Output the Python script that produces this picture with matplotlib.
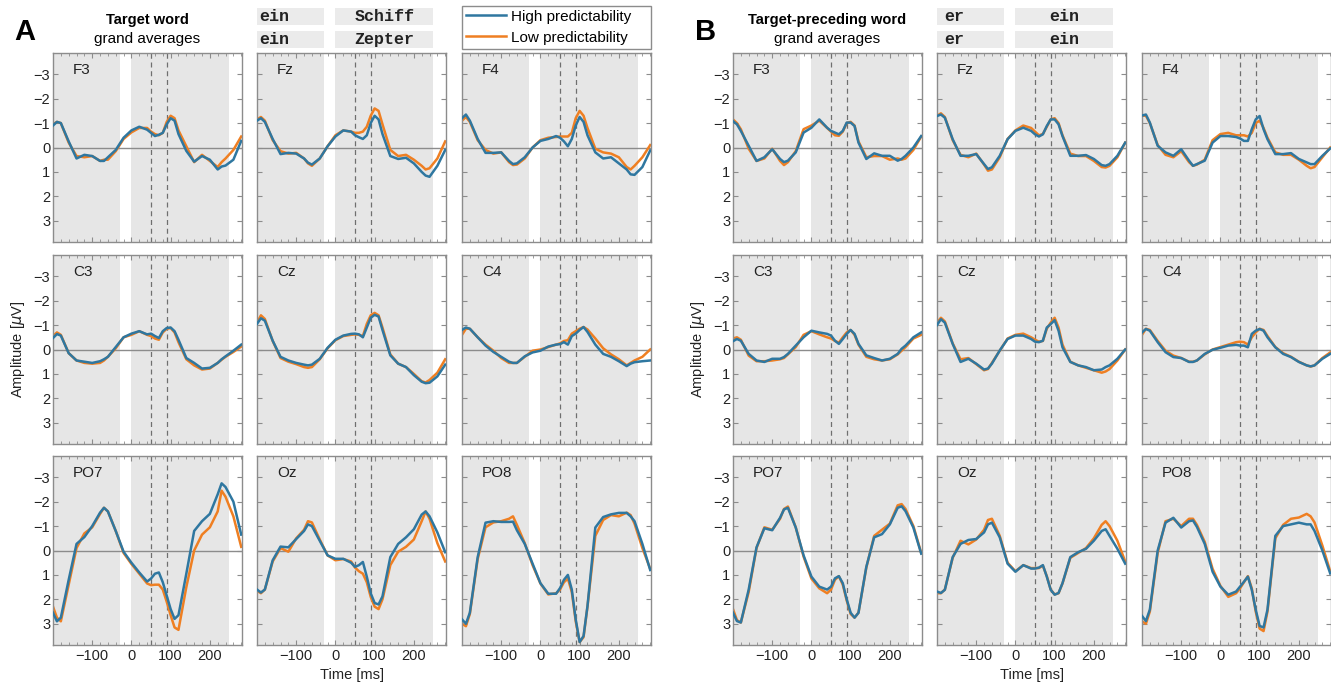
import matplotlib
matplotlib.use('Agg')
import matplotlib.pyplot as plt
from matplotlib.ticker import MultipleLocator
from matplotlib.transforms import blended_transform_factory
from matplotlib.patches import Rectangle
from matplotlib.lines import Line2D

plt.rcParams['font.family'] = ['Liberation Sans', 'DejaVu Sans']

# sample times (ms) shared by every waveform
times = [-200, -190, -180, -160, -140, -120, -100, -80, -70, -60, -40, -20, 0, 20, 40, 50,
         60, 70, 80, 90, 100, 110, 120, 140, 160, 180, 200, 220, 230, 240, 260, 280]

channels = [['F3', 'Fz', 'F4'], ['C3', 'Cz', 'C4'], ['PO7', 'Oz', 'PO8']]
cond_labels = ['High predictability', 'Low predictability']
fix_windows = [(-200, -30), (0, 250)]
marker_times = [50, 90]
words_a = [['ein', 'Schiff'], ['ein', 'Zepter']]
words_b = [['er', 'ein'], ['er', 'ein']]

# panel A: target word (hi = high predictability, lo = low predictability)
a_f3_hi = [-0.9, -1.05, -1.0, -0.25, 0.45, 0.3, 0.35, 0.55, 0.55, 0.4, 0.1, -0.4, -0.7, -0.85, -0.73, -0.6, -0.47, -0.52, -0.6, -0.95, -1.2, -1.1, -0.55, 0.14, 0.58, 0.35, 0.5, 0.9, 0.78, 0.74, 0.5, -0.27]
a_f3_lo = [-0.95, -1.05, -1.0, -0.2, 0.35, 0.4, 0.35, 0.55, 0.5, 0.5, 0.15, -0.35, -0.62, -0.8, -0.8, -0.65, -0.55, -0.5, -0.6, -1.05, -1.3, -1.2, -0.7, -0.05, 0.6, 0.3, 0.55, 0.8, 0.6, 0.45, 0.1, -0.45]
a_fz_hi = [-1.1, -1.2, -1.05, -0.35, 0.27, 0.22, 0.25, 0.45, 0.62, 0.7, 0.45, -0.05, -0.45, -0.7, -0.65, -0.5, -0.42, -0.35, -0.5, -1.0, -1.3, -1.15, -0.55, 0.35, 0.47, 0.42, 0.65, 1.0, 1.15, 1.2, 0.75, 0.1]
a_fz_lo = [-1.15, -1.25, -1.1, -0.3, 0.15, 0.25, 0.22, 0.45, 0.65, 0.75, 0.45, -0.05, -0.5, -0.7, -0.65, -0.6, -0.6, -0.65, -0.85, -1.3, -1.6, -1.5, -0.95, 0.1, 0.35, 0.3, 0.5, 0.75, 0.9, 0.85, 0.45, -0.25]
a_f4_hi = [-1.2, -1.35, -1.1, -0.35, 0.22, 0.22, 0.2, 0.55, 0.68, 0.65, 0.4, 0.0, -0.27, -0.35, -0.47, -0.4, -0.25, -0.05, -0.35, -0.9, -1.25, -1.05, -0.5, 0.2, 0.45, 0.4, 0.65, 0.9, 1.1, 1.12, 0.8, 0.12]
a_f4_lo = [-1.1, -1.25, -1.05, -0.3, 0.1, 0.25, 0.2, 0.6, 0.72, 0.7, 0.45, 0.0, -0.3, -0.4, -0.43, -0.45, -0.45, -0.45, -0.6, -1.2, -1.5, -1.3, -0.8, 0.05, 0.2, 0.25, 0.4, 0.8, 0.9, 0.75, 0.4, -0.1]
a_c3_hi = [-0.47, -0.63, -0.57, 0.15, 0.45, 0.5, 0.55, 0.48, 0.4, 0.3, -0.1, -0.5, -0.65, -0.75, -0.62, -0.65, -0.55, -0.47, -0.75, -0.88, -0.9, -0.75, -0.4, 0.35, 0.55, 0.78, 0.75, 0.55, 0.4, 0.28, 0.05, -0.2]
a_c3_lo = [-0.55, -0.7, -0.6, 0.15, 0.45, 0.55, 0.58, 0.55, 0.45, 0.3, -0.05, -0.5, -0.6, -0.75, -0.6, -0.55, -0.45, -0.4, -0.7, -0.85, -0.88, -0.7, -0.3, 0.4, 0.65, 0.82, 0.78, 0.55, 0.42, 0.3, 0.1, -0.12]
a_cz_hi = [-1.05, -1.28, -1.18, -0.36, 0.3, 0.45, 0.55, 0.62, 0.65, 0.62, 0.38, -0.07, -0.4, -0.57, -0.64, -0.65, -0.62, -0.5, -0.9, -1.3, -1.42, -1.35, -0.8, 0.24, 0.58, 0.72, 1.05, 1.32, 1.38, 1.36, 1.1, 0.62]
a_cz_lo = [-1.1, -1.4, -1.25, -0.35, 0.35, 0.5, 0.6, 0.72, 0.75, 0.72, 0.4, -0.05, -0.38, -0.55, -0.6, -0.62, -0.6, -0.55, -1.05, -1.4, -1.5, -1.4, -0.9, 0.2, 0.58, 0.72, 1.0, 1.3, 1.35, 1.25, 0.95, 0.4]
a_c4_hi = [-0.8, -0.9, -0.85, -0.5, -0.16, 0.1, 0.3, 0.5, 0.55, 0.55, 0.28, 0.12, 0.05, -0.12, -0.2, -0.22, -0.3, -0.2, -0.55, -0.65, -0.8, -0.92, -0.72, -0.2, 0.18, 0.3, 0.48, 0.68, 0.58, 0.52, 0.48, 0.45]
a_c4_lo = [-0.6, -0.85, -0.85, -0.5, -0.2, 0.05, 0.35, 0.55, 0.55, 0.55, 0.3, 0.05, 0.0, -0.1, -0.2, -0.25, -0.35, -0.38, -0.65, -0.75, -0.85, -0.92, -0.82, -0.45, -0.05, 0.2, 0.4, 0.65, 0.55, 0.45, 0.3, 0.0]
a_po7_hi = [2.55, 2.9, 2.75, 1.2, -0.27, -0.55, -1.0, -1.55, -1.75, -1.6, -0.8, 0.05, 0.5, 0.9, 1.27, 1.15, 0.95, 0.9, 1.3, 1.85, 2.4, 2.8, 2.65, 0.95, -0.8, -1.2, -1.5, -2.3, -2.75, -2.6, -2.0, -0.65]
a_po7_lo = [2.3, 2.75, 2.9, 1.4, -0.1, -0.7, -0.95, -1.5, -1.75, -1.6, -0.8, 0.1, 0.55, 0.95, 1.35, 1.42, 1.4, 1.4, 1.6, 2.1, 2.65, 3.15, 3.25, 1.5, 0.0, -0.65, -0.95, -1.6, -2.45, -2.2, -1.4, -0.15]
a_oz_hi = [1.6, 1.72, 1.6, 0.4, -0.16, -0.13, -0.47, -0.8, -1.07, -1.0, -0.4, 0.2, 0.34, 0.34, 0.5, 0.67, 0.6, 0.47, 1.07, 1.75, 2.15, 2.21, 1.88, 0.27, -0.27, -0.54, -0.87, -1.47, -1.6, -1.4, -0.74, 0.07]
a_oz_lo = [1.65, 1.75, 1.6, 0.45, -0.1, 0.05, -0.5, -0.85, -1.2, -1.15, -0.45, 0.2, 0.4, 0.35, 0.45, 0.7, 0.85, 0.95, 1.3, 1.9, 2.3, 2.4, 2.0, 0.6, 0.05, -0.15, -0.45, -1.2, -1.6, -1.3, -0.3, 0.45]
a_po8_hi = [2.82, 3.0, 2.55, 0.27, -1.14, -1.2, -1.17, -1.17, -1.18, -0.83, -0.27, 0.54, 1.34, 1.77, 1.77, 1.54, 1.2, 1.0, 1.6, 2.82, 3.75, 3.5, 2.28, -0.94, -1.37, -1.48, -1.54, -1.54, -1.4, -1.2, -0.27, 0.8]
a_po8_lo = [3.0, 3.1, 2.6, 0.35, -0.95, -1.15, -1.2, -1.3, -1.4, -1.05, -0.3, 0.6, 1.35, 1.8, 1.75, 1.6, 1.3, 1.15, 1.7, 2.9, 3.75, 3.55, 2.3, -0.6, -1.25, -1.45, -1.4, -1.55, -1.45, -1.1, -0.1, 0.75]

# panel B: target-preceding word
b_f3_hi = [-1.08, -0.95, -0.68, -0.07, 0.55, 0.4, 0.07, 0.47, 0.6, 0.54, 0.2, -0.61, -0.81, -1.15, -0.81, -0.68, -0.61, -0.54, -0.68, -1.02, -1.02, -0.88, -0.2, 0.47, 0.24, 0.34, 0.34, 0.54, 0.47, 0.34, 0.0, -0.47]
b_f3_lo = [-1.15, -1.0, -0.75, 0.05, 0.55, 0.45, 0.05, 0.55, 0.72, 0.6, 0.15, -0.75, -0.9, -1.1, -0.8, -0.65, -0.5, -0.48, -0.65, -1.0, -1.05, -0.9, -0.25, 0.4, 0.35, 0.35, 0.5, 0.45, 0.5, 0.45, 0.1, -0.45]
b_fz_hi = [-1.29, -1.35, -1.22, -0.34, 0.34, 0.34, 0.27, 0.68, 0.88, 0.81, 0.34, -0.34, -0.68, -0.81, -0.68, -0.54, -0.45, -0.54, -0.88, -1.15, -1.15, -0.95, -0.47, 0.34, 0.34, 0.31, 0.47, 0.72, 0.75, 0.68, 0.34, -0.2]
b_fz_lo = [-1.3, -1.4, -1.25, -0.3, 0.3, 0.4, 0.25, 0.7, 0.95, 0.9, 0.4, -0.35, -0.7, -0.9, -0.8, -0.65, -0.5, -0.55, -0.85, -1.15, -1.2, -1.0, -0.5, 0.25, 0.35, 0.35, 0.55, 0.8, 0.82, 0.75, 0.4, -0.2]
b_f4_hi = [-1.31, -1.35, -1.02, -0.07, 0.2, 0.34, 0.07, 0.54, 0.75, 0.68, 0.54, -0.2, -0.47, -0.47, -0.43, -0.37, -0.27, -0.27, -0.75, -1.15, -1.29, -0.75, -0.34, 0.27, 0.27, 0.23, 0.47, 0.61, 0.68, 0.68, 0.34, 0.04]
b_f4_lo = [-1.3, -1.3, -1.0, -0.1, 0.3, 0.4, 0.15, 0.6, 0.75, 0.7, 0.5, -0.3, -0.55, -0.6, -0.5, -0.5, -0.5, -0.45, -0.6, -1.0, -1.1, -0.8, -0.4, 0.2, 0.3, 0.3, 0.5, 0.75, 0.85, 0.8, 0.4, 0.0]
b_c3_hi = [-0.34, -0.43, -0.36, 0.18, 0.45, 0.51, 0.38, 0.38, 0.31, 0.18, -0.16, -0.5, -0.77, -0.7, -0.64, -0.57, -0.36, -0.23, -0.43, -0.64, -0.8, -0.64, -0.23, 0.24, 0.35, 0.45, 0.38, 0.18, -0.03, -0.16, -0.5, -0.7]
b_c3_lo = [-0.45, -0.5, -0.4, 0.25, 0.48, 0.48, 0.45, 0.4, 0.35, 0.2, -0.1, -0.6, -0.75, -0.62, -0.5, -0.45, -0.35, -0.28, -0.5, -0.7, -0.8, -0.6, -0.2, 0.3, 0.4, 0.45, 0.4, 0.2, 0.05, -0.1, -0.45, -0.6]
b_cz_hi = [-1.0, -1.24, -1.1, -0.23, 0.51, 0.38, 0.58, 0.82, 0.78, 0.58, 0.04, -0.43, -0.57, -0.57, -0.43, -0.32, -0.3, -0.36, -0.9, -1.04, -1.2, -0.77, -0.09, 0.51, 0.65, 0.72, 0.85, 0.82, 0.72, 0.65, 0.38, 0.0]
b_cz_lo = [-1.1, -1.3, -1.15, -0.25, 0.4, 0.35, 0.6, 0.85, 0.8, 0.55, 0.05, -0.45, -0.6, -0.65, -0.5, -0.4, -0.32, -0.35, -0.85, -1.1, -1.3, -0.9, -0.2, 0.5, 0.65, 0.75, 0.85, 0.95, 0.9, 0.8, 0.45, 0.0]
b_c4_hi = [-0.7, -0.84, -0.77, -0.3, 0.11, 0.31, 0.35, 0.51, 0.51, 0.45, 0.18, 0.01, -0.07, -0.16, -0.19, -0.16, -0.16, -0.09, -0.64, -0.77, -0.84, -0.77, -0.5, -0.09, 0.18, 0.31, 0.51, 0.65, 0.69, 0.65, 0.38, 0.18]
b_c4_lo = [-0.6, -0.85, -0.8, -0.35, 0.05, 0.25, 0.35, 0.5, 0.5, 0.45, 0.2, 0.0, -0.1, -0.2, -0.3, -0.32, -0.3, -0.2, -0.5, -0.7, -0.85, -0.8, -0.55, -0.1, 0.15, 0.3, 0.5, 0.65, 0.7, 0.65, 0.35, 0.12]
b_po7_hi = [2.55, 2.89, 2.95, 1.6, -0.13, -0.91, -0.83, -1.34, -1.68, -1.75, -0.94, 0.2, 1.07, 1.48, 1.6, 1.48, 1.14, 1.05, 1.34, 2.0, 2.55, 2.75, 2.55, 0.67, -0.54, -0.67, -1.07, -1.75, -1.81, -1.61, -0.94, 0.13]
b_po7_lo = [2.4, 2.85, 2.95, 1.7, -0.1, -0.95, -0.85, -1.3, -1.7, -1.8, -0.95, 0.25, 1.15, 1.55, 1.75, 1.6, 1.2, 1.05, 1.4, 2.05, 2.6, 2.75, 2.55, 0.7, -0.6, -0.85, -1.1, -1.85, -1.9, -1.7, -1.0, 0.1]
b_oz_hi = [1.68, 1.74, 1.61, 0.27, -0.27, -0.43, -0.47, -0.74, -1.07, -1.14, -0.54, 0.54, 0.87, 0.6, 0.74, 0.74, 0.7, 0.6, 1.07, 1.61, 1.81, 1.74, 1.34, 0.27, 0.07, -0.07, -0.4, -0.8, -0.87, -0.6, -0.07, 0.54]
b_oz_lo = [1.75, 1.75, 1.6, 0.3, -0.4, -0.25, -0.45, -0.85, -1.25, -1.3, -0.6, 0.5, 0.85, 0.6, 0.72, 0.72, 0.72, 0.62, 1.05, 1.6, 1.8, 1.75, 1.35, 0.3, 0.1, -0.1, -0.5, -1.05, -1.2, -1.0, -0.4, 0.45]
b_po8_hi = [2.68, 2.89, 2.42, 0.0, -1.14, -1.34, -0.94, -1.2, -1.23, -0.97, -0.27, 0.87, 1.48, 1.81, 1.68, 1.48, 1.28, 1.07, 1.61, 2.42, 3.09, 3.15, 2.42, -0.6, -1.0, -1.07, -1.14, -1.07, -1.07, -0.8, 0.0, 0.94]
b_po8_lo = [2.9, 3.0, 2.5, 0.1, -1.2, -1.3, -1.0, -1.3, -1.3, -1.05, -0.35, 0.75, 1.45, 1.9, 1.75, 1.55, 1.3, 1.05, 1.55, 2.5, 3.2, 3.3, 2.5, -0.5, -1.05, -1.3, -1.35, -1.5, -1.4, -1.15, -0.2, 0.85]

waves = {
    'A': {'F3': (a_f3_hi, a_f3_lo), 'Fz': (a_fz_hi, a_fz_lo), 'F4': (a_f4_hi, a_f4_lo),
          'C3': (a_c3_hi, a_c3_lo), 'Cz': (a_cz_hi, a_cz_lo), 'C4': (a_c4_hi, a_c4_lo),
          'PO7': (a_po7_hi, a_po7_lo), 'Oz': (a_oz_hi, a_oz_lo), 'PO8': (a_po8_hi, a_po8_lo)},
    'B': {'F3': (b_f3_hi, b_f3_lo), 'Fz': (b_fz_hi, b_fz_lo), 'F4': (b_f4_hi, b_f4_lo),
          'C3': (b_c3_hi, b_c3_lo), 'Cz': (b_cz_hi, b_cz_lo), 'C4': (b_c4_hi, b_c4_lo),
          'PO7': (b_po7_hi, b_po7_lo), 'Oz': (b_oz_hi, b_oz_lo), 'PO8': (b_po8_hi, b_po8_lo)},
}

blue = '#2f77a0'
orange = '#ef7f22'
frame_grey = '#8c8c8c'
shade = '#e6e6e6'

W, H = 1331, 685
fig = plt.figure(figsize=(W / 100, H / 100), dpi=100)

col_left = {'A': [53, 257, 462], 'B': [733, 937, 1142]}
row_top = [53, 255, 456]
ax_w, ax_h = 189, 189

mid_axes = {}
for panel in ['A', 'B']:
    for r in range(3):
        for c in range(3):
            l, t = col_left[panel][c], row_top[r]
            ax = fig.add_axes([l / W, 1 - (t + ax_h) / H, ax_w / W, ax_h / H])
            ch = channels[r][c]
            hi, lo = waves[panel][ch]
            for a, b in fix_windows:
                ax.axvspan(a, b, color=shade, lw=0, zorder=0)
            ax.axhline(0, color=frame_grey, lw=1, zorder=1)
            for m in marker_times:
                ax.axvline(m, color='#6f6f6f', lw=0.9, ls=(0, (4, 3)), zorder=1)
            ax.plot(times, lo, color=orange, lw=1.8, zorder=2)
            ax.plot(times, hi, color=blue, lw=1.8, zorder=3)
            ax.set_xlim(-200, 282)
            ax.set_ylim(3.87, -3.87)
            ax.set_xticks([-100, 0, 100, 200])
            ax.xaxis.set_minor_locator(MultipleLocator(20))
            ax.set_yticks(range(-3, 4))
            ax.tick_params(which='both', direction='in', top=True, right=True,
                           color=frame_grey, labelcolor='#222222', labelsize=10.5)
            ax.tick_params(which='major', length=3.5, width=0.8)
            ax.tick_params(which='minor', length=2, width=0.6)
            ax.tick_params(axis='x', pad=3)
            ax.tick_params(axis='y', pad=2)
            ax.tick_params(labelbottom=(r == 2), labelleft=(c == 0))
            for sp in ax.spines.values():
                sp.set_color(frame_grey)
                sp.set_linewidth(1)
            ax.text(0.105, 0.91, ch, transform=ax.transAxes, fontsize=11,
                    va='center', ha='left', color='#222222')
            if r == 0 and c == 1:
                mid_axes[panel] = ax

# panel letters, titles and axis labels
fig.text(25 / W, 1 - 32 / H, 'A', fontsize=21, fontweight='bold', ha='center', va='center')
fig.text(706 / W, 1 - 32 / H, 'B', fontsize=21, fontweight='bold', ha='center', va='center')
fig.text(147 / W, 1 - 20 / H, 'Target word', fontsize=10.5, fontweight='bold', ha='center', va='center')
fig.text(147 / W, 1 - 39 / H, 'grand averages', fontsize=11, ha='center', va='center')
fig.text(827 / W, 1 - 20 / H, 'Target-preceding word', fontsize=10.5, fontweight='bold', ha='center', va='center')
fig.text(827 / W, 1 - 39 / H, 'grand averages', fontsize=11, ha='center', va='center')
for x0 in [18, 698]:
    fig.text(x0 / W, 1 - 349 / H, 'Amplitude [$\\mu$V]', rotation=90, fontsize=10.5,
             ha='center', va='center', color='#222222')
for x0 in [351.5, 1031.5]:
    fig.text(x0 / W, 1 - 675 / H, 'Time [ms]', fontsize=10.5, ha='center', va='center', color='#222222')

# word boxes above the middle column
word_x = [-157, 125]
for panel, words in [('A', words_a), ('B', words_b)]:
    trans = blended_transform_factory(mid_axes[panel].transData, fig.transFigure)
    for row, (y0, y1) in enumerate([(8, 25), (31, 48)]):
        for k, (a, b) in enumerate(fix_windows):
            fig.patches.append(Rectangle((a, 1 - y1 / H), b - a, (y1 - y0) / H,
                                         transform=trans, color='#ebebeb', lw=0))
            fig.text(word_x[k], 1 - (y0 + y1) / 2 / H, words[row][k], transform=trans,
                     family=['Liberation Mono', 'DejaVu Sans Mono'], fontweight='bold',
                     fontsize=12, ha='center', va='center', color='#222222')

handles = [Line2D([], [], color=blue, lw=1.8), Line2D([], [], color=orange, lw=1.8)]
leg = fig.legend(handles, cond_labels, loc='upper left',
                 bbox_to_anchor=(462 / W, 1 - 48 / H, 189 / W, 42 / H), mode='expand',
                 borderaxespad=0, fontsize=11, handlelength=2.6, handletextpad=0.35,
                 labelspacing=0.45, borderpad=0.25, fancybox=False, framealpha=1)
leg.get_frame().set_edgecolor(frame_grey)

fig.savefig('out.png', dpi=100)
